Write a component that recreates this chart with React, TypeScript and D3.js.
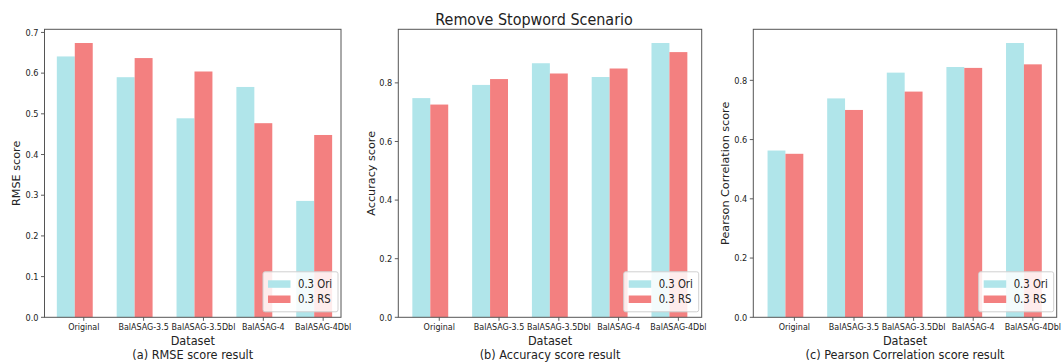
import React from "react";
import * as d3 from "d3";

const categories = ["Original", "BalASAG-3.5", "BalASAG-3.5Dbl", "BalASAG-4", "BalASAG-4Dbl"];
const seriesNames = ["0.3 Ori", "0.3 RS"];

const rmseOri = [0.641, 0.59, 0.489, 0.566, 0.286];
const rmseRS = [0.674, 0.637, 0.604, 0.477, 0.448];
const accOri = [0.748, 0.793, 0.867, 0.82, 0.936];
const accRS = [0.726, 0.813, 0.832, 0.849, 0.905];
const pearOri = [0.563, 0.739, 0.826, 0.845, 0.926];
const pearRS = [0.552, 0.7, 0.762, 0.842, 0.854];

const rmseTicks = [0, 0.1, 0.2, 0.3, 0.4, 0.5, 0.6, 0.7];
const accTicks = [0, 0.2, 0.4, 0.6, 0.8];
const pearTicks = [0, 0.2, 0.4, 0.6, 0.8];

const COLORS = ["#b0e5ea", "#f38080"];
const FONT = "DejaVu Sans, sans-serif";
const SQ = 0.87;

const panels = [
  { ori: rmseOri, rs: rmseRS, ticks: rmseTicks, ylabel: "RMSE score", caption: "(a) RMSE score result", left: 44.5, right: 341, xd: [-0.356, 4.598], ylx: 15.5, fmt: ".1f" },
  { ori: accOri, rs: accRS, ticks: accTicks, ylabel: "Accuracy score", caption: "(b) Accuracy score result", left: 398.3, right: 701.7, xd: [-0.385, 4.69], ylx: 371, fmt: ".1f" },
  { ori: pearOri, rs: pearRS, ticks: pearTicks, ylabel: "Pearson Correlation score", caption: "(c) Pearson Correlation score result", left: 753.3, right: 1056.7, xd: [-0.389, 4.7], ylx: 725, fmt: ".1f" },
];

const TOP = 29.3;
const BOTTOM = 317.3;

function T({ x, y, size, anchor = "middle", children, fill = "#222" }: any) {
  return (
    <text
      transform={`translate(${x},${y}) scale(${SQ},1)`}
      fontSize={size}
      fontFamily={FONT}
      textAnchor={anchor}
      fill={fill}
    >
      {children}
    </text>
  );
}

function Panel({ p }: any) {
  const x = d3.scaleLinear().domain(p.xd).range([p.left, p.right]);
  const ymax = (d3.max([...p.ori, ...p.rs]) as number) * 1.05;
  const y = d3.scaleLinear().domain([0, ymax]).range([BOTTOM, TOP]);
  const fmt = d3.format(p.fmt);
  const w = 0.3;
  const lgW = 75, lgH = 40;
  const lgX = p.right - 3 - lgW;
  const lgY = BOTTOM - 5.5 - lgH;
  const midY = (TOP + BOTTOM) / 2;
  const midX = (p.left + p.right) / 2;
  return (
    <g>
      {categories.map((c, i) => (
        <g key={c}>
          <rect x={x(i - w / 2)} y={y(p.ori[i])} width={x(i + w / 2) - x(i - w / 2)} height={BOTTOM - y(p.ori[i])} fill={COLORS[0]} />
          <rect x={x(i + w / 2)} y={y(p.rs[i])} width={x(i + 1.5 * w) - x(i + w / 2)} height={BOTTOM - y(p.rs[i])} fill={COLORS[1]} />
          <line x1={x(i + w)} x2={x(i + w)} y1={BOTTOM} y2={BOTTOM + 3.5} stroke="#333" strokeWidth={0.8} />
          <T x={x(i + w)} y={329.5} size={9.2}>{c}</T>
        </g>
      ))}
      {p.ticks.map((t: number) => (
        <g key={t}>
          <line x1={p.left - 3.5} x2={p.left} y1={y(t)} y2={y(t)} stroke="#333" strokeWidth={0.8} />
          <T x={p.left - 6} y={y(t) + 3.2} size={9.4} anchor="end">{fmt(t)}</T>
        </g>
      ))}
      <rect x={p.left} y={TOP} width={p.right - p.left} height={BOTTOM - TOP} fill="none" stroke="#555" strokeWidth={1} />
      <text
        transform={`translate(${p.ylx + 4},${midY}) rotate(-90)`}
        fontSize={11.2}
        fontFamily={FONT}
        textAnchor="middle"
        fill="#222"
      >
        {p.ylabel}
      </text>
      <T x={midX} y={344.5} size={13}>Dataset</T>
      <T x={midX} y={358.5} size={13}>{p.caption}</T>
      <g>
        <rect x={lgX} y={lgY} width={lgW} height={lgH} rx={2} fill="white" fillOpacity={0.85} stroke="#d0d0d0" strokeWidth={1} />
        {seriesNames.map((s, k) => (
          <g key={s}>
            <rect x={lgX + 5} y={lgY + 8.5 + k * 15.2} width={22.5} height={7.5} fill={COLORS[k]} />
            <T x={lgX + 35} y={lgY + 16.2 + k * 15.2} size={11.6} anchor="start">{s}</T>
          </g>
        ))}
      </g>
    </g>
  );
}

export default function App() {
  return (
    <svg width={1064} height={363} style={{ position: "absolute", left: 0, top: 0, background: "white" }}>
      <rect width={1064} height={363} fill="white" />
      <T x={534} y={24.5} size={16.5}>Remove Stopword Scenario</T>
      {panels.map((p, i) => (
        <Panel key={i} p={p} />
      ))}
    </svg>
  );
}
